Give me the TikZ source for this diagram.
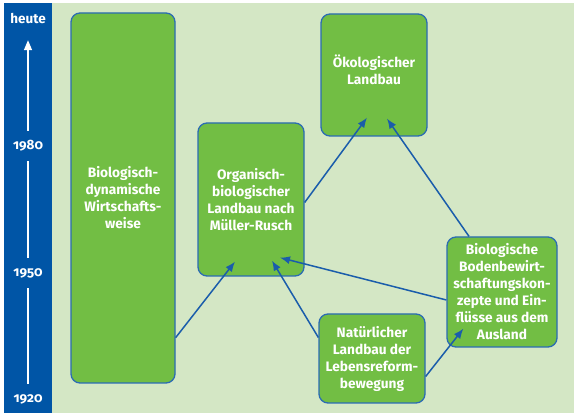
\documentclass[tikz,border=0pt]{standalone}
\usepackage{fontspec}
\setmainfont{Fira Sans}
\usetikzlibrary{calc,arrows.meta}
\definecolor{barblue}{HTML}{0055A6}
\definecolor{panelgreen}{HTML}{D4E7C5}
\definecolor{boxgreen}{HTML}{72BE44}
\definecolor{boxline}{HTML}{2B6CB3}
\definecolor{arrowblue}{HTML}{1A5DAB}

\begin{document}
\begin{tikzpicture}[x=1pt,y=1pt,
    box/.style={draw=boxline, line width=1.3pt, fill=boxgreen, rounded corners=9pt,
        text=white, font=\bfseries\fontsize{13.7}{17}\selectfont, align=center, inner sep=0pt},
    link/.style={draw=arrowblue, line width=1.5pt, -{Latex[length=10pt,width=8pt]}},
    year/.style={text=white, font=\bfseries\fontsize{13.5}{14}\selectfont\addfontfeature{Numbers=OldStyle},
        minimum height=30pt, inner sep=0pt},
    tl/.style={draw=white, line width=1.5pt}]

% Background
\useasboundingbox (0,0) rectangle (576,417);
\fill[panelgreen] (52,4) rectangle (574,414);
\fill[barblue] (4,4) rectangle (52,414);

% Boxes
\node[box, minimum width=104pt, minimum height=370pt] (bd) at (123,219)
    {Biologisch-\\dynamische\\Wirtschafts-\\weise};
\node[box, minimum width=106pt, minimum height=153pt] (org) at (251,217.5)
    {Organisch-\\biologischer\\Landbau nach\\Müller-Rusch};
\node[box, minimum width=106pt, minimum height=122pt] (oek) at (374,342)
    {Ökologischer\\Landbau\\[-6pt]};
\node[box, minimum width=110pt, minimum height=110pt] (bbk) at (502,125)
    {Biologische\\Bodenbewirt-\\schaftungskon-\\zepte und Ein-\\flüsse aus dem\\Ausland};
\node[box, minimum width=106pt, minimum height=89pt] (nat) at (372,58.5)
    {Natürlicher\\Landbau der\\Lebensreform-\\bewegung};

% Arrows
\draw[link] ($(bd.south east)+(0,46)$) -- ($(org.south)+(-16,15)$);
\draw[link] ($(org.east)+(0,-3)$) -- ($(oek.south)+(-7,19)$);
\draw[link] ($(bbk.north)+(-33,0)$) -- ($(oek.south)+(13,18)$);
\draw[link] ($(bbk.west)+(0,-8)$) -- ($(org.south)+(29,19)$);
\draw[link] ($(nat.west)+(0,21)$) -- ($(org.south)+(21,16)$);
\draw[link] ($(nat.east)+(0,-18)$) -- ($(bbk.south west)+(17,19)$);

% Timeline
\node[year] (heute) at (28,398) {heute};
\node[year] (y1980) at (28,271) {1980};
\node[year] (y1950) at (28,144) {1950};
\node[year] (y1920) at (28,18) {1920};
\draw[tl] (y1920) -- (y1950);
\draw[tl] (y1950) -- (y1980);
\draw[tl, -{Triangle[length=10pt,width=8pt]}, shorten >=6pt] (y1980) -- (heute);

\end{tikzpicture}
\end{document}
